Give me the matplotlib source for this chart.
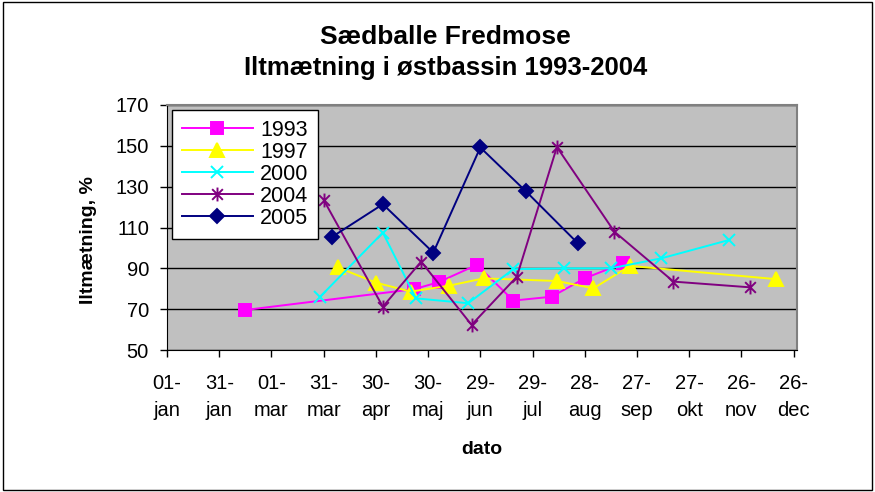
import matplotlib.pyplot as plt
from matplotlib.path import Path
from matplotlib.patches import Rectangle

plt.rcParams['font.family'] = ['Liberation Sans', 'DejaVu Sans']

# ── Data (day number from 01-jan, Excel 1900 calendar) ──────────────────────
days_1993 = [45, 142, 156, 178, 199, 221, 240, 262]
vals_1993 = [69.6, 79.8, 83.2, 91.7, 74.2, 76.1, 85.1, 92.5]

days_1997 = [98, 120, 140, 162, 182, 224, 245, 266, 350]
vals_1997 = [90.5, 83.0, 78.6, 81.5, 85.1, 83.8, 80.2, 91.2, 84.7]

days_2000 = [88, 124, 143, 173, 199, 228, 255, 284, 323]
vals_2000 = [76.1, 107.5, 75.3, 72.9, 89.6, 90.0, 90.0, 94.9, 103.9]

days_2004 = [90, 124, 146, 175, 201, 224, 257, 291, 335]
vals_2004 = [123.5, 71.2, 93.3, 62.3, 85.9, 149.4, 108.0, 83.5, 80.7]

days_2005 = [95, 124, 153, 180, 206, 236]
vals_2005 = [105.5, 121.4, 97.7, 149.2, 127.9, 102.3]

tick_days = [0, 30, 60, 90, 120, 150, 180, 210, 240, 270, 300, 330, 360]
tick_labels = ['01-\njan', '31-\njan', '01-\nmar', '31-\nmar', '30-\napr', '30-\nmaj',
               '29-\njun', '29-\njul', '28-\naug', '27-\nsep', '27-\nokt', '26-\nnov',
               '26-\ndec']
y_ticks = [50, 70, 90, 110, 130, 150, 170]

# asterisk marker like Excel: X plus vertical bar
star = Path([(-1, -1), (1, 1), (-1, 1), (1, -1), (0, -1.3), (0, 1.3)],
            [Path.MOVETO, Path.LINETO, Path.MOVETO, Path.LINETO, Path.MOVETO, Path.LINETO])

series = [
    ('1993', days_1993, vals_1993, '#FF00FF', 's', 8),
    ('1997', days_1997, vals_1997, '#FFFF00', '^', 10),
    ('2000', days_2000, vals_2000, '#00FFFF', 'x', 9),
    ('2004', days_2004, vals_2004, '#800080', star, 10),
    ('2005', days_2005, vals_2005, '#000080', 'D', 7),
]

# ── Figure ────────────────────────────────────────────────────────────────────
fig = plt.figure(figsize=(8.75, 4.92), dpi=100)
ax = fig.add_axes([0.1909, 0.2886, 0.72, 0.498])
ax.set_facecolor('#C0C0C0')

for name, d, v, col, mk, ms in series:
    ax.plot(d, v, color=col, lw=1.4, marker=mk, markersize=ms,
            markerfacecolor=col, markeredgecolor=col, markeredgewidth=1.4, label=name)

ax.set_xlim(0, 362)
ax.set_ylim(50, 170)
ax.set_xticks(tick_days)
ax.set_xticklabels(tick_labels, linespacing=1.55)
ax.set_yticks(y_ticks)
ax.yaxis.grid(True, color='black', lw=1)
ax.set_axisbelow(True)
ax.tick_params(axis='both', direction='out', length=5, width=1, labelsize=14.5)
ax.tick_params(axis='y', pad=8)
ax.tick_params(axis='x', pad=12)

for side in ['top', 'right']:
    ax.spines[side].set_color('#808080')
    ax.spines[side].set_linewidth(1.5)
for side in ['left', 'bottom']:
    ax.spines[side].set_color('black')

ax.set_ylabel('Iltmætning, %', fontsize=14, fontweight='bold')
ax.yaxis.set_label_coords(-0.125, 0.45)
ax.set_xlabel('dato', fontsize=14, fontweight='bold')
ax.xaxis.set_label_coords(0.5, -0.405)
ax.xaxis.label.set_va('center')
ax.yaxis.label.set_va('center')

fig.text(0.509, 0.925, 'Sædballe Fredmose', ha='center', va='center',
         fontsize=19, fontweight='bold')
fig.text(0.509, 0.862, 'Iltmætning i østbassin 1993-2004', ha='center', va='center',
         fontsize=18.5, fontweight='bold')

leg = ax.legend(loc='upper left', bbox_to_anchor=(0.008, 0.98), fontsize=15.5,
                frameon=True, fancybox=False, edgecolor='black', framealpha=1,
                handlelength=3.3, borderpad=0.45, labelspacing=0.05, handletextpad=0.35,
                borderaxespad=0)
leg.get_frame().set_linewidth(1)

fig.patches.append(Rectangle((0.003, 0.004), 0.994, 0.992, transform=fig.transFigure,
                             fill=False, edgecolor='black', lw=1))

fig.savefig('out.png', dpi=100)
